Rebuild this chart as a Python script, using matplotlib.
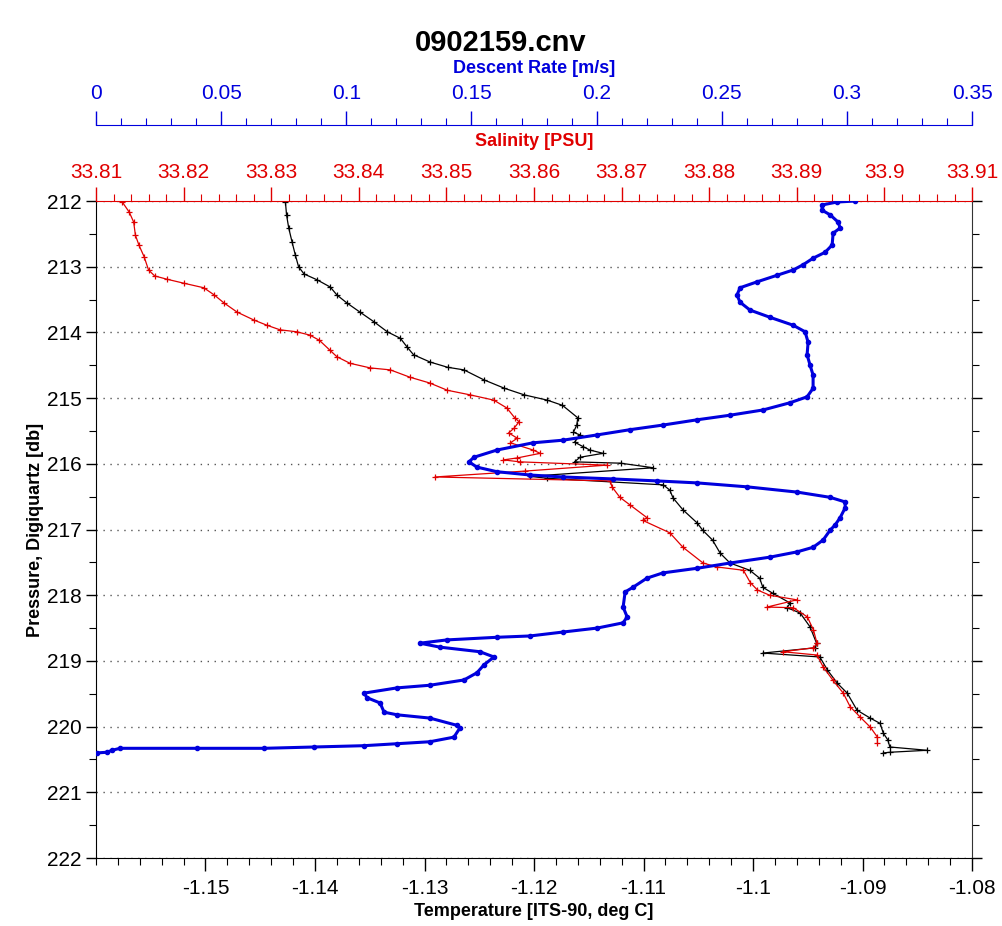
import matplotlib
matplotlib.use('Agg')
import matplotlib.pyplot as plt
from matplotlib.ticker import MultipleLocator, FormatStrFormatter

plt.rcParams['font.family'] = ['Liberation Sans', 'DejaVu Sans']

BLUE = '#0000dd'
RED = '#e00000'

# Temperature profile (black)
temp_p = [212.015, 212.21, 212.41, 212.62, 212.82, 213.00, 213.11, 213.20, 213.31, 213.43,
          213.55, 213.69, 213.84, 213.99, 214.09, 214.22, 214.34, 214.45, 214.53, 214.57,
          214.72, 214.85, 214.95, 215.03, 215.11, 215.30, 215.41, 215.52, 215.56, 215.67,
          215.74, 215.79, 215.84, 215.90, 215.97, 215.99, 216.06, 216.19, 216.22, 216.32,
          216.40, 216.52, 216.70, 216.90, 217.01, 217.16, 217.36, 217.51, 217.62, 217.74,
          217.88, 217.97, 218.12, 218.19, 218.27, 218.48, 218.73, 218.80, 218.88, 218.94,
          219.14, 219.34, 219.49, 219.75, 219.87, 219.95, 220.10, 220.20, 220.31, 220.36,
          220.39, 220.40]
temp_v = [-1.1427, -1.1426, -1.1424, -1.1421, -1.1418, -1.1415, -1.1410, -1.1398, -1.1386, -1.1380,
          -1.1371, -1.1359, -1.1346, -1.1334, -1.1322, -1.1316, -1.1310, -1.1295, -1.1279, -1.1264,
          -1.1246, -1.1227, -1.1209, -1.1188, -1.1174, -1.1160, -1.1161, -1.1164, -1.1158, -1.1163,
          -1.1155, -1.1149, -1.1137, -1.1158, -1.1163, -1.1121, -1.1091, -1.1204, -1.1188, -1.1082,
          -1.1076, -1.1073, -1.1064, -1.1051, -1.1046, -1.1037, -1.1030, -1.1021, -1.1003, -1.0994,
          -1.0991, -1.0982, -1.0966, -1.0969, -1.0957, -1.0948, -1.0942, -1.0943, -1.0991, -1.0939,
          -1.0932, -1.0923, -1.0914, -1.0905, -1.0893, -1.0884, -1.0881, -1.0877, -1.0875, -1.0841,
          -1.0875, -1.0881]

# Salinity profile (red)
sal_p = [212.015, 212.17, 212.32, 212.52, 212.67, 212.85, 213.05, 213.14, 213.19, 213.25,
         213.32, 213.43, 213.55, 213.69, 213.81, 213.89, 213.96, 213.99, 214.04, 214.12,
         214.27, 214.37, 214.47, 214.54, 214.57, 214.68, 214.77, 214.88, 214.95, 215.03,
         215.15, 215.30, 215.36, 215.46, 215.53, 215.61, 215.68, 215.79, 215.84, 215.91,
         215.94, 215.97, 216.02, 216.11, 216.20, 216.26, 216.35, 216.51, 216.63, 216.82,
         216.86, 217.05, 217.27, 217.51, 217.57, 217.62, 217.81, 217.92, 218.00, 218.07,
         218.18, 218.19, 218.33, 218.53, 218.73, 218.80, 218.86, 218.91, 219.09, 219.29,
         219.49, 219.70, 219.85, 220.01, 220.16, 220.25]
sal_v = [33.8130, 33.8138, 33.8143, 33.8145, 33.8149, 33.8155, 33.8160, 33.8167, 33.8181, 33.8200,
         33.8223, 33.8235, 33.8246, 33.8261, 33.8280, 33.8295, 33.8310, 33.8329, 33.8344, 33.8355,
         33.8367, 33.8375, 33.8390, 33.8413, 33.8436, 33.8458, 33.8481, 33.8501, 33.8527, 33.8554,
         33.8569, 33.8578, 33.8583, 33.8577, 33.8571, 33.8581, 33.8573, 33.8599, 33.8607, 33.8581,
         33.8565, 33.8584, 33.8683, 33.8590, 33.8487, 33.8687, 33.8689, 33.8698, 33.8710, 33.8729,
         33.8724, 33.8755, 33.8770, 33.8793, 33.8809, 33.8839, 33.8847, 33.8855, 33.8869, 33.8900,
         33.8866, 33.8896, 33.8912, 33.8919, 33.8923, 33.8919, 33.8884, 33.8923, 33.8930, 33.8941,
         33.8953, 33.8961, 33.8972, 33.8984, 33.8992, 33.8992]

# Descent rate (blue)
rate_p = [212.00, 212.015, 212.06, 212.14, 212.21, 212.32, 212.41, 212.49, 212.67, 212.78,
          212.87, 212.97, 213.05, 213.13, 213.23, 213.32, 213.43, 213.54, 213.66, 213.77,
          213.89, 213.99, 214.15, 214.34, 214.50, 214.65, 214.85, 214.98, 215.07, 215.18,
          215.26, 215.33, 215.41, 215.48, 215.56, 215.64, 215.68, 215.79, 215.90, 215.97,
          216.05, 216.12, 216.17, 216.20, 216.23, 216.26, 216.29, 216.35, 216.43, 216.51,
          216.58, 216.67, 216.82, 216.93, 217.01, 217.16, 217.27, 217.34, 217.42, 217.51,
          217.59, 217.66, 217.74, 217.88, 217.95, 218.18, 218.33, 218.42, 218.50, 218.56,
          218.62, 218.64, 218.68, 218.73, 218.79, 218.86, 218.94, 219.06, 219.18, 219.29,
          219.37, 219.41, 219.49, 219.56, 219.64, 219.78, 219.82, 219.87, 219.98, 220.02,
          220.16, 220.23, 220.26, 220.29, 220.31, 220.33, 220.33, 220.33, 220.36, 220.39,
          220.40]
rate_v = [0.3033, 0.2961, 0.2901, 0.2901, 0.2933, 0.2965, 0.2973, 0.2945, 0.2941, 0.2913,
          0.2865, 0.2825, 0.2785, 0.2721, 0.2641, 0.2573, 0.2561, 0.2573, 0.2613, 0.2693,
          0.2785, 0.2833, 0.2845, 0.2841, 0.2853, 0.2865, 0.2865, 0.2841, 0.2773, 0.2665,
          0.2533, 0.2401, 0.2265, 0.2134, 0.2002, 0.1866, 0.1746, 0.1602, 0.1510, 0.1490,
          0.1522, 0.1602, 0.1734, 0.1866, 0.2066, 0.2241, 0.2401, 0.2601, 0.2801, 0.2933,
          0.2993, 0.2993, 0.2973, 0.2953, 0.2933, 0.2905, 0.2865, 0.2801, 0.2693, 0.2533,
          0.2401, 0.2265, 0.2201, 0.2145, 0.2114, 0.2106, 0.2122, 0.2106, 0.2002, 0.1866,
          0.1734, 0.1602, 0.1402, 0.1294, 0.1374, 0.1534, 0.1590, 0.1550, 0.1522, 0.1470,
          0.1334, 0.1203, 0.1071, 0.1083, 0.1135, 0.1151, 0.1203, 0.1334, 0.1442, 0.1454,
          0.1430, 0.1334, 0.1203, 0.1071, 0.0871, 0.0671, 0.0404, 0.0096, 0.0064, 0.0044,
          0.0004]

fig = plt.figure(figsize=(10.02, 9.26), dpi=100)
ax = fig.add_axes([0.0958, 0.0734, 0.8743, 0.7095])

# temperature axis (bottom)
ax.plot(temp_v, temp_p, color='black', lw=0.9, marker='+', ms=4, mew=0.9)
ax.set_xlim(-1.16, -1.08)
ax.set_ylim(222, 212)
ax.xaxis.set_minor_locator(MultipleLocator(0.002))
ax.xaxis.set_major_formatter(FormatStrFormatter('%g'))
ax.set_xticks([-1.15, -1.14, -1.13, -1.12, -1.11, -1.10, -1.09, -1.08])
ax.yaxis.set_major_locator(MultipleLocator(1))
ax.yaxis.set_minor_locator(MultipleLocator(0.5))
ax.tick_params(axis='x', which='major', length=9, width=1, labelsize=15, pad=6)
ax.tick_params(axis='x', which='minor', length=5, width=0.8)
ax.tick_params(axis='y', which='major', length=7, width=1, labelsize=15, right=True)
ax.tick_params(axis='y', which='minor', length=5, width=0.8, right=True)
ax.set_xlabel('Temperature [ITS-90, deg C]', fontsize=13, fontweight='bold', labelpad=4)
ax.set_ylabel('Pressure, Digiquartz [db]', fontsize=13, fontweight='bold', labelpad=2)
ax.grid(axis='y', which='major', color='#555555', linestyle=(0, (1, 4)), lw=1)
ax.spines['top'].set_visible(False)
ax.spines['right'].set_color('#333333')

# salinity axis (top)
ax_s = ax.twiny()
ax_s.plot(sal_v, sal_p, color=RED, lw=0.9, marker='+', ms=4, mew=0.9)
ax_s.set_xlim(33.81, 33.91)
ax_s.xaxis.set_major_locator(MultipleLocator(0.01))
ax_s.xaxis.set_minor_locator(MultipleLocator(0.002))
ax_s.xaxis.set_major_formatter(FormatStrFormatter('%g'))
ax_s.tick_params(axis='x', which='major', colors=RED, length=10, width=1, labelsize=15, pad=4)
ax_s.tick_params(axis='x', which='minor', colors=RED, length=5, width=0.8)
ax_s.set_xlabel('Salinity [PSU]', color=RED, fontsize=13, fontweight='bold', labelpad=12)
for s in ['left', 'right', 'bottom']:
    ax_s.spines[s].set_visible(False)
ax_s.spines['top'].set_color(RED)

# descent rate axis (top, offset)
ax_d = ax.twiny()
ax_d.plot(rate_v, rate_p, color=BLUE, lw=2.2, marker='o', ms=3)
ax_d.set_xlim(0, 0.35)
ax_d.xaxis.set_major_locator(MultipleLocator(0.05))
ax_d.xaxis.set_minor_locator(MultipleLocator(0.01))
ax_d.xaxis.set_major_formatter(FormatStrFormatter('%g'))
ax_d.spines['top'].set_position(('axes', 1.1157))
ax_d.tick_params(axis='x', which='major', colors=BLUE, length=10, width=1, labelsize=15, pad=6)
ax_d.tick_params(axis='x', which='minor', colors=BLUE, length=5, width=0.8)
ax_d.set_xlabel('Descent Rate [m/s]', color=BLUE, fontsize=13, fontweight='bold', labelpad=8)
for s in ['left', 'right', 'bottom']:
    ax_d.spines[s].set_visible(False)
ax_d.spines['top'].set_color(BLUE)

fig.text(0.5, 1 - 43 / 926, '0902159.cnv', ha='center', va='center',
         fontsize=21, fontweight='bold')

fig.savefig('out.png', dpi=100)
